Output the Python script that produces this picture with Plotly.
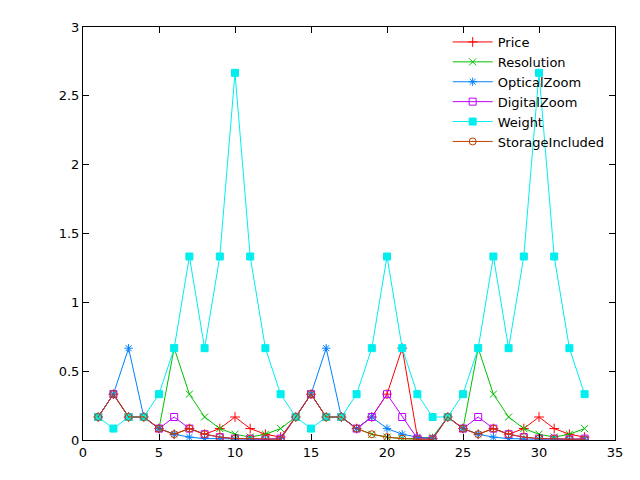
import plotly.graph_objects as go

x = list(range(1, 34))

price = [0.167, 0.333, 0.167, 0.167, 0.083, 0.042, 0.083, 0.042, 0.083, 0.167, 0.083, 0.042, 0.021,
         0.167, 0.333, 0.167, 0.167, 0.083, 0.167, 0.333, 0.667, 0.021, 0.01,
         0.167, 0.083, 0.042, 0.083, 0.042, 0.083, 0.167, 0.083, 0.042, 0.021]
resolution = [0.167, 0.333, 0.167, 0.167, 0.083, 0.667, 0.333, 0.167, 0.083, 0.042, 0.021, 0.042, 0.083,
              0.167, 0.333, 0.167, 0.167, 0.083, 0.042, 0.021, 0.01, 0.01, 0.021,
              0.167, 0.083, 0.667, 0.333, 0.167, 0.083, 0.042, 0.021, 0.042, 0.083]
optical = [0.167, 0.333, 0.667, 0.167, 0.083, 0.042, 0.021, 0.01, 0.01, 0.005, 0.005, 0.005, 0.01,
           0.167, 0.333, 0.667, 0.167, 0.083, 0.167, 0.083, 0.042, 0.021, 0.01,
           0.167, 0.083, 0.042, 0.021, 0.01, 0.005, 0.005, 0.005, 0.005, 0.005]
digital = [0.167, 0.333, 0.167, 0.167, 0.083, 0.167, 0.083, 0.042, 0.021, 0.01, 0.01, 0.005, 0.01,
           0.167, 0.333, 0.167, 0.167, 0.083, 0.167, 0.333, 0.167, 0.01, 0.005,
           0.167, 0.083, 0.167, 0.083, 0.042, 0.021, 0.01, 0.01, 0.005, 0.01]
weight = [0.167, 0.083, 0.167, 0.167, 0.333, 0.667, 1.333, 0.667, 1.333, 2.667, 1.333, 0.667, 0.333,
          0.167, 0.083, 0.167, 0.167, 0.333, 0.667, 1.333, 0.667, 0.333, 0.167,
          0.167, 0.333, 0.667, 1.333, 0.667, 1.333, 2.667, 1.333, 0.667, 0.333]
storage = [0.167, 0.333, 0.167, 0.167, 0.083, 0.042, 0.083, 0.042, 0.021, 0.01, 0.01, 0.01, 0.005,
           0.167, 0.333, 0.167, 0.167, 0.083, 0.042, 0.021, 0.01, 0.005, 0.005,
           0.167, 0.083, 0.042, 0.083, 0.042, 0.021, 0.01, 0.01, 0.005, 0.005]

series = [
    ("Price", price, "#ff0000", "cross-thin-open"),
    ("Resolution", resolution, "#00c000", "x-thin-open"),
    ("OpticalZoom", optical, "#0080ff", "asterisk-open"),
    ("DigitalZoom", digital, "#c000ff", "square-open"),
    ("Weight", weight, "#00eeee", "square"),
    ("StorageIncluded", storage, "#c04000", "circle-open-dot"),
]

fig = go.Figure()
for name, vals, color, sym in series:
    fig.add_trace(go.Scatter(x=x, y=vals, name=name, mode="lines+markers",
                             line=dict(color=color, width=1),
                             marker=dict(symbol=sym, size=7, color=color,
                                         line=dict(color=color, width=1))))

axis = dict(showgrid=False, zeroline=False, showline=True, mirror="ticks",
            linecolor="black", ticks="inside", ticklen=6, tickcolor="black",
            tickfont=dict(family="DejaVu Sans", size=13, color="black"))
fig.update_xaxes(range=[0, 35], dtick=5, **axis)
fig.update_yaxes(range=[0, 3], dtick=0.5, **axis)
fig.update_layout(
    width=640, height=480, plot_bgcolor="white", paper_bgcolor="white",
    margin=dict(l=75, r=33, t=12, b=48),
    font=dict(family="DejaVu Sans", size=13, color="black"),
    legend=dict(x=0.99, y=1.0, xanchor="right", yanchor="top",
                bgcolor="rgba(0,0,0,0)", tracegroupgap=0, itemwidth=40),
)
fig.write_html("out.html")
